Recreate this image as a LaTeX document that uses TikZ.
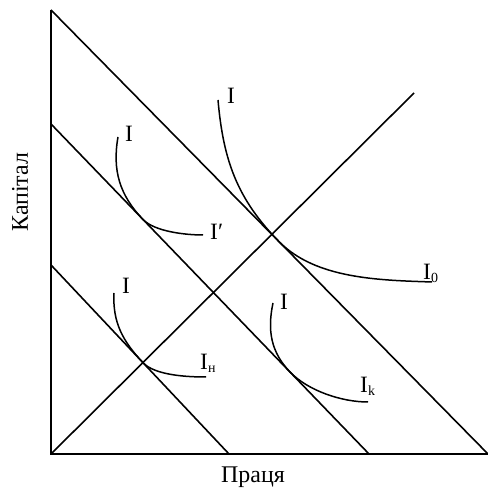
\documentclass[tikz,border=0pt]{standalone}
\usepackage{fontspec}
\setmainfont{Liberation Serif}
\newcommand{\lowidx}[1]{\raisebox{-3bp}{\fontsize{14}{14}\selectfont #1}}
\begin{document}
\begin{tikzpicture}[x=1bp,y=1bp,
  ln/.style={line width=1.6bp},
  crv/.style={line width=1.5bp},
  lbl/.style={font=\fontsize{23.5}{27}\selectfont, inner sep=0pt, anchor=base west},
  axlbl/.style={font=\fontsize{24}{28}\selectfont, inner sep=0pt}]
\useasboundingbox (0,0) rectangle (488,490);
% axes
\coordinate (O) at (51,36);
\coordinate (ytop) at (51,480);
\coordinate (xend) at (488,36);
\draw[ln] (ytop) -- (O) -- (xend);
% budget lines
\coordinate (m1) at (51,366);
\coordinate (m2) at (369,36);
\coordinate (n1) at (51,225);
\coordinate (n2) at (229,36);
\draw[ln] (ytop) -- (xend);
\draw[ln] (m1) -- (m2);
\draw[ln] (n1) -- (n2);
% ray
\coordinate (d2) at (414,397);
\draw[ln] (O) -- (d2);
% indifference curves
\coordinate (a0) at (218,390); \coordinate (t0) at (279,248.4); \coordinate (b0) at (432,208);
\draw[crv] (a0) to[out=-85,in=134.5] (t0) to[out=-45.5,in=178,looseness=0.85] (b0);
\coordinate (a1) at (118,353); \coordinate (t1) at (143,270.5); \coordinate (b1) at (203,255);
\draw[crv] (a1) to[out=-100,in=133.9] (t1) to[out=-46.1,in=180,looseness=0.7] (b1);
\coordinate (a2) at (114,197); \coordinate (t2) at (143,127.3); \coordinate (b2) at (206,113);
\draw[crv] (a2) to[out=-93,in=133.3] (t2) to[out=-46.7,in=180,looseness=0.7] (b2);
\coordinate (a3) at (273,187); \coordinate (t3) at (290,118); \coordinate (b3) at (368,88);
\draw[crv] (a3) to[out=-102,in=133.9] (t3) to[out=-46.1,in=180,looseness=0.8] (b3);
% labels
\node[lbl] (l0a) at (227,386) {I};
\node[lbl] (l0b) at (423,210) {I\lowidx{0}};
\node[lbl] (l1a) at (125,348) {I};
\node[lbl] (l1b) at (210,250) {I′};
\node[lbl] (l2a) at (122,196) {I};
\node[lbl] (l2b) at (200,120) {I\lowidx{н}};
\node[lbl] (l3a) at (280,180) {I};
\node[lbl] (l3b) at (360,97) {I\lowidx{k}};
\node[axlbl, rotate=90] (ylab) at (20,298) {Капітал};
\node[axlbl] (xlab) at (253,13) {Праця};
\end{tikzpicture}
\end{document}
